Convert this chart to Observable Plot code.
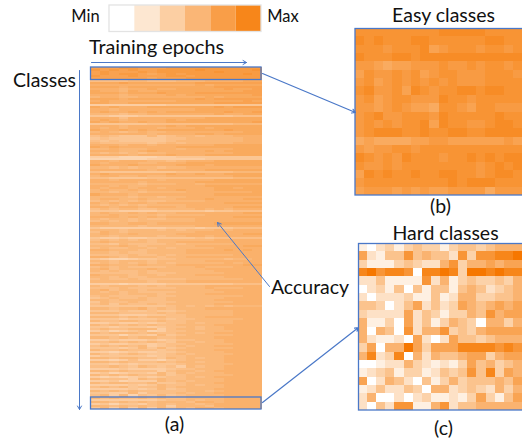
<!DOCTYPE html>
<html><head><meta charset="utf-8">
<script src="https://cdn.jsdelivr.net/npm/d3@7"></script>
<script src="https://cdn.jsdelivr.net/npm/@observablehq/plot@0.6"></script>
<style>
html,body{margin:0;padding:0;background:#fff;overflow:hidden}
#page{position:relative;width:522px;height:443px;overflow:hidden}
#page>svg{position:absolute;margin:0;background:transparent}
.blur{filter:blur(.5px)}
.soft{filter:blur(.3px)}
</style></head><body><div id="page"></div>
<script>
// Estimated accuracy, one hex digit per training epoch (0 = min, f = max).
const mainRows = [
"dddeedddeeeeeeeeee","edededdeeeefeeeeef","dedddedeeeeeefeeee","dedeedcdedeeeeeefe","edddedddeedeeeeeee","ddddddcdddeeeeeeee",
"9999aa999aaabbbbcc","cccdcccccccddddddd","bbbbbbbbbbbcbccccc","cccbcccccccccddddd","bbbabbcbbcccccdccd","cbbacbbcccccccccdd",
"cccbcccdcccddddddd","bbbabbbbcbcccccccd","abbaabbbbbbbcbcccc","cccbcccccccdcddddd","bcbbbbbbbcccccccdc","ccbbcccccccccddddd",
"777777778888888888","cbcbbbcccccccdcddd","bbabbbbbbbbccccccc","bcbbcbcbccccccdccd","aaa9aabbbbbbbcbbcc","887778888888888999",
"bbb9bbbbbbbbcccccc","bcbabbbbcbcccccccc","cbcbbcbbcccccccccd","888888999999999aaa","bbbabbbbcbcccccccc","bababbbabbbcbccccc",
"cbbcbcbcccccccdccc","aba9abaabbbbbbbbcc","bbbbbbabbbbccbcccc","9a9888a89aa9aaabbb","8988888899aaaaaabb","989888889aaaaaaabb",
"a9999989a9aaaaabbb","bbbabbabbbbbbccccc","cbcbbbbbbccccccccc","aabaaabbbabbbbbccc","bbbaabcbbbbbcbcccc","a9a9a9aabbbbbbbccc",
"bbbbabbbcbbbcccccc","777666677888888888","666666777777888888","bbabbbaa9abbbccccc","babbbaabbbcccccccc","cbbbcbbbbcccbccccc",
"aa9a9aa9aabbbbbbbb","bbbbbbabbbbbcccccc","988888888999999aaa","bcbbbbbbcbbcbbcccc","abbaabaabbbbbbbccc","998888999999999aaa",
"bbabbbbabbbbbccccc","bbbbbabbbbbccccccc","aaaaa9aaabbabbbbbb","bbabaabbbbbbcccccc","babbabbabbbbbccbcc","abaababbbcbbbccccc",
"aa9aa9aaaabbbbbbbc","cbbbabbbbbbbbccccc","aaaa9aa9aabbbbbbbb","abbaabaaabbbcbbbcc","9a9a9a99aaaabbbbbb","bababbabbbbbbbcccc",
"a9a9a9aaaabbbbbbbb","bbabbabbbabbbbbccc","9a9aa99aaaabababbb","888777788888788999","abaababaabbbbbbbcc","aabaaaa9aaaabbbbbb",
"bbbabababbbbbbbccc","a9aa9a99aaabbbbbbb","9a9a9aaaaaabbbbbbb","bbaabbabbbbbbccccc","aaaaa9aaaaabbbbbbb","877777778887888999",
"aaa9aaa9a9aaababbb","9ba9aaaaaaabbbbbbb","abaabaaaabbbbbbbcc","aa9aaaa9aabbabbbbb","877877888889899999","9a9a9a9aaaaaabbbbb",
"abaaaa9aabbbbbbbbb","998a9999a9aaaaabbb","aaaba9aaaaabbbbbcc","9a99aa9a9aaaabbbbb","bbaaa9aaaabbbbcbcb","aa9a99aaaabbbbbbbb",
"9999a99a9aaaaaabbb","bba9aaa9aabbbbbbbb","876678899aaaaa9aab","aa9aaa9aaaaabbbbbb","9a9a9a9a9aaaaababb","bbaaabaaabbbbbbbcc",
"9a9a9999aaabaaabbb","ab9aaabaaaaabbbbbb","a9a99a9aaaaaabbbbb","99999a999aaaaabbbb","baaa9aa9aaabbbbbbb","aa9a99aaaaaaaabbbb",
"9a99a99999aaaaaabb","aaaaaa9aaabbbbbbbb","777677778888888999","a9aaa9a9aaaabbbbbb","999a99999aaabaaabb","ab9aa9aaaaaaabbbbb",
"a9a9a9999aaaaabbbb","aaa9aaa9aaaabbbbbb","9a9999a99aaaaaaabb","89a99a99aaaaaabbbb","aa9aaa99aaaaabbbbb","8a99a9999aaaaaabbb",
"9a8a99a9aaaaabbbbb","888888889a9a9a9aaa","aa9aab9a9aaabbbbbb","8889889889aaaaabbb","aaa9999a9aaaaaabbb","8887778899aaaaabbb",
"aaa9a9aa99aabbbbbb","88878889899aaaaabb","a99aa99a99aaaaabbb","7787787899a9aaabbb","a9a9a9a99aaaabbbbb","8878887899a9aabbbb",
"9a99aaa79aa9aabbbb","7867896799aaaaabbb","a9aaa9a99aa9abbbbb","8886887a89aaaaabbb","aa9a9aa99aaaabbbbb","77877787899aaabbbb",
"99a9a9a98aa9aabbbb","7877887899aaaaabbb","9a9a9a789a9aabbbbb","88878a8a89aaaaabbb","a99a99989aaaabbbbb","7767877889aaaabbbb",
"a989a9889a9aaaabbb","7888887899aaaabbbb","aa9aa998a9a9aabbbb","7767977689aaaabbbb","aa9a999a9aa9aabbbb","8878788889aaaaabbb",
"99a98a9897a9aabbbb","77787777899aaabbbb","aa9a99979aa9abbbbb","7867887a8a9aaabbbb","a9a9a99a89aaaaabbb","7676787899a9abbbbb",
"a9997a9a99aaaabbbb","7786777a9a9aaabbbb","a9aa99a889aaabbbbb","7777878a99a9aabbbb","9a9a899a9aaaaabbbb","7777878a89aaabbbbb",
"a9a9a99999aa9abbbb","8877a7999a9aabbbbb","9a7a698a89aaaabbbb","a9a99a9a99aaaabbbb","7777777899a9aabbbb","aa9a9a9aaa9bbabbbb",
"7868879a9aa9abbbbb","aa9a9a9a7aaa9bbbbb","8a7a7a7a8a9bbabbbb"
];
// Easy classes: the top box of the main matrix, enlarged.
const easyRows = [
"eeeeeeeeefffffeeee","fefeeeffeeeeeeffee","eeedeeefcdeeedeede","feeeffefffffffffff",
"ddcbccdddeddedeede","ceddedecdeedddeeed","decdededededddeeee","efddecfedeeffeffee",
"decdeedddfeedeeeee","ddcdedccbeedceeddd","defddeeedfeeeeefee","dededeefcfeeddeffe",
"defffeefeeffeeffff","bcbbbbccddccccccdc","dcddeedeeeeeeeeeee","fededfeeedeefefeff",
"eddedeeeeeeeedefef","cfefeefeeffeedeffe","deeeeeeeeefefffeee","cdddcdcdccddddbddd"
];
// Hard classes: the bottom box of the main matrix, enlarged (0 = min, 9 = max).
const hardRows = [
"102313433134434555","621447454427377889","311134322573556566","897887088983998988",
"224111172513433435","023140414414542345","202223114125533445","443024624236545656",
"322226243133547566","511306241354305535","505407255734356666","521120620264434555",
"360559636668888787","582380525445663566","001225321213645345","123413312434748365",
"602542041353444546","124224305523432535","250020231121363146","204277115724455555"
];
// Colour-key levels and labels.
const keyLevels = [0,3,6,9,12,15];
const keyNames = ["Min","Max"];
const titles = ["Easy classes","Hard classes","Training epochs","Classes","Accuracy","(a)","(b)","(c)"];

const hex = s => parseInt(s,16);
const cells = rows => rows.flatMap((row,r)=>[...row].map((d,c)=>({r,c,v:hex(d)})));
const page = document.getElementById("page");
const ORANGE = "#f7861a";

function heat(rows, dom, left, top, w, h, cls){
  const svg = Plot.plot({
    width:w, height:h, margin:0,
    x:{type:"band",axis:null,round:false,padding:0},
    y:{type:"band",axis:null,round:false,padding:0},
    color:{type:"linear",domain:dom,range:["#ffffff",ORANGE]},
    marks:[Plot.cell(cells(rows),{x:"c",y:"r",fill:"v",shapeRendering:"crispEdges"})]
  });
  svg.style.left=left+"px"; svg.style.top=top+"px"; svg.classList.add(cls);
  page.appendChild(svg);
}
heat(mainRows,[0,17],90,67,172,342,"soft");
heat(easyRows,[0,15.8],354.5,28,167.5,167,"blur");
heat(hardRows,[0,8],358,243,164,167,"blur");

const key = Plot.plot({
  width:152,height:26,margin:0,
  x:{type:"band",axis:null,round:false,padding:0},
  y:{axis:null},
  color:{type:"linear",domain:[0,15],range:["#ffffff",ORANGE]},
  marks:[Plot.cell(keyLevels,{x:d=>d,fill:d=>d})]
});
key.style.left="109px"; key.style.top="5px"; page.appendChild(key);

const BLUE="#4a78c8";
const frames=[
 {x1:90.5,y1:67,x2:261,y2:79.5,s:BLUE},{x1:90.5,y1:397,x2:261,y2:409,s:BLUE},
 {x1:355,y1:28.5,x2:530,y2:195,s:BLUE},{x1:358.5,y1:243.5,x2:530,y2:410,s:BLUE},
 {x1:109,y1:5,x2:261,y2:31.5,s:"#e3e3e3"}
];
const arrows=[
 {x1:91,y1:62,x2:246,y2:62,w:1},{x1:79,y1:70,x2:79,y2:409,w:1},
 {x1:269,y1:286,x2:217,y2:222,w:1},{x1:262,y1:73,x2:355,y2:112,w:1.2},{x1:262,y1:402,x2:358,y2:327,w:1.2}
];
const labels=[
 {t:keyNames[0],x:85,y:16,s:16.5},{t:keyNames[1],x:282.5,y:16,s:16.5},
 {t:titles[0],x:443,y:15,s:19.5},{t:titles[1],x:445,y:233,s:19.5},
 {t:titles[2],x:156,y:47,s:19.8},{t:titles[3],x:44,y:80,s:19.5},
 {t:titles[4],x:309.5,y:287,s:19.5},{t:titles[5],x:174,y:424,s:19.5},
 {t:titles[6],x:440,y:206,s:19.5},{t:titles[7],x:443,y:428,s:19.5}
];
const overlay = Plot.plot({
  width:522,height:443,margin:0,
  x:{type:"identity",axis:null},y:{type:"identity",axis:null},
  marks:[
    Plot.rect(frames,{x1:"x1",y1:"y1",x2:"x2",y2:"y2",fill:"none",stroke:"s",strokeWidth:1.3}),
    Plot.arrow(arrows,{x1:"x1",y1:"y1",x2:"x2",y2:"y2",stroke:BLUE,strokeWidth:"w",headLength:6,bend:0}),
    Plot.text(labels,{x:"x",y:"y",text:"t",fontSize:"s",fontFamily:"Lato",fill:"#111",textAnchor:"middle",lineAnchor:"middle"})
  ]
});
overlay.style.left="0";overlay.style.top="0";page.appendChild(overlay);
</script></body></html>
